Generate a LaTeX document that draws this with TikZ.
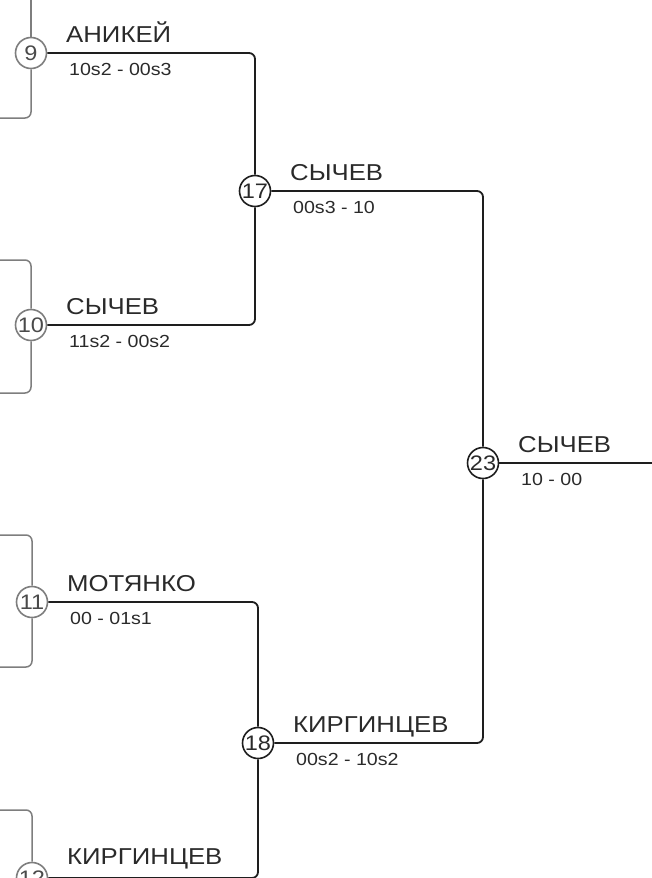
\documentclass[tikz,border=0pt]{standalone}
\usepackage{fontspec}
\setmainfont{Liberation Sans}
\newfontfamily\bracketfont[FakeStretch=1.12]{Liberation Sans}
\usetikzlibrary{positioning}
\definecolor{LineDark}{HTML}{1E1E1E}
\definecolor{LineGray}{HTML}{7E7E7E}
\definecolor{TextDark}{HTML}{2A2A2A}
\definecolor{TextGray}{HTML}{4A4A4A}

\begin{document}
\begin{tikzpicture}[x=1pt, y=-1pt,
  match/.style={circle, draw=LineDark, line width=1.6pt, fill=white, minimum size=31pt, inner sep=0pt, text=TextDark, font=\bracketfont\fontsize{21}{21}\selectfont},
  earlymatch/.style={match, draw=LineGray, text=TextGray},
  player/.style={anchor=base west, inner sep=0pt, text=TextDark, font=\bracketfont\fontsize{23}{23}\selectfont},
  score/.style={anchor=base west, inner sep=0pt, text=TextDark, font=\bracketfont\fontsize{17.5}{17.5}\selectfont},
  wire/.style={draw=LineDark, line width=1.8pt, rounded corners=6pt},
  feed/.style={draw=LineGray, line width=1.5pt, rounded corners=6pt}]

  % Bildausschnitt (652 x 878)
  \useasboundingbox (0,0) rectangle (652,878);

  % Makro fuer Spielerzeile und Ergebnis neben einem Spiel
  % Parameter: 1=Spielknoten, 2=Name, 3=Ergebnis
  \def\matchlabel#1#2#3{
    \node[player] (#1name) at ([shift={(35,-11)}]#1.center) {#2};
    \node[score] (#1score) at ([shift={(38,22)}]#1.center) {#3};
  }

  % Spiele (Runde 1 grau, danach schwarz)
  \node[earlymatch] (m9) at (31,53) {9};
  \node[earlymatch] (m10) at (31,325) {10};
  \node[earlymatch] (m11) at (32,602) {11};
  \node[earlymatch] (m12) at (32,878) {12};
  \node[match] (m17) at (255,191) {17};
  \node[match] (m18) at (258,743) {18};
  \node[match] (m23) at (483,463) {23};

  % Enden der Zuleitungen am Bildrand
  \coordinate (f9a) at (31,0);
  \coordinate (f9b) at (0,118);
  \coordinate (f10a) at (0,260);
  \coordinate (f10b) at (0,393);
  \coordinate (f11a) at (0,535);
  \coordinate (f11b) at (0,667);
  \coordinate (f12a) at (0,810);
  \coordinate (out23) at (652,463);

  % Zuleitungen aus der Vorrunde
  \draw[feed] (f9a) -- (m9);
  \draw[feed] (f9b) -| (m9);
  \draw[feed] (f10a) -| (m10);
  \draw[feed] (f10b) -| (m10);
  \draw[feed] (f11a) -| (m11);
  \draw[feed] (f11b) -| (m11);
  \draw[feed] (f12a) -| (m12);

  % Verbindungen zwischen den Spielen
  \draw[wire] (m9) -| (m17);
  \draw[wire] (m10) -| (m17);
  \draw[wire] (m11) -| (m18);
  \draw[wire] (m12) -| (m18);
  \draw[wire] (m17) -| (m23);
  \draw[wire] (m18) -| (m23);
  \draw[wire] (m23) -- (out23);

  % Namen und Ergebnisse
  \matchlabel{m9}{АНИКЕЙ}{10s2 - 00s3}
  \matchlabel{m10}{СЫЧЕВ}{11s2 - 00s2}
  \matchlabel{m11}{МОТЯНКО}{00 - 01s1}
  \node[player] (m12name) at ([shift={(35,-14)}]m12.center) {КИРГИНЦЕВ};
  \matchlabel{m17}{СЫЧЕВ}{00s3 - 10}
  \matchlabel{m18}{КИРГИНЦЕВ}{00s2 - 10s2}
  \matchlabel{m23}{СЫЧЕВ}{10 - 00}

\end{tikzpicture}
\end{document}
